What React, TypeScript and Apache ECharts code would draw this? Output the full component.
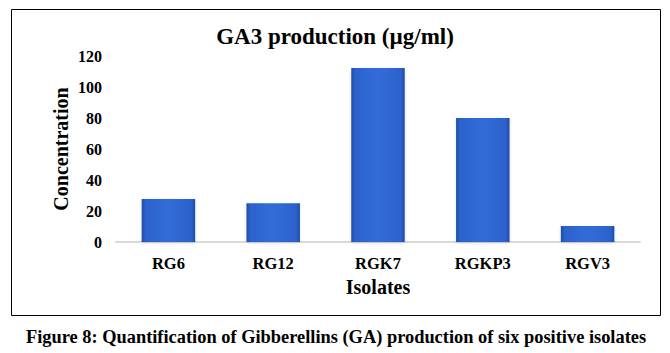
import React, { useEffect, useRef } from "react";
import * as echarts from "echarts";

const categories = ["RG6", "RG12", "RGK7", "RGKP3", "RGV3"];
const values = [27.7, 25, 112.3, 80, 10.3];
const titleText = "GA3 production (µg/ml)";
const captionText = "Figure 8: Quantification of Gibberellins (GA) production of six positive isolates";
const xName = "Isolates";
const yName = "Concentration";

const FONT = '"Liberation Serif", "Times New Roman", serif';

export default function App() {
  const ref = useRef<HTMLDivElement>(null);
  useEffect(() => {
    document.body.style.margin = "0";
    const chart = echarts.init(ref.current!, null, { renderer: "svg" });
    chart.setOption({
      animation: false,
      backgroundColor: "#ffffff",
      title: {
        text: titleText,
        left: "center",
        top: 20,
        textStyle: { fontFamily: FONT, fontWeight: "bold", fontSize: 23, color: "#000" },
      },
      grid: { left: 116, right: 30, top: 56, bottom: 111 },
      xAxis: {
        type: "category",
        data: categories,
        name: xName,
        nameLocation: "middle",
        nameGap: 35,
        nameTextStyle: { fontFamily: FONT, fontWeight: "bold", fontSize: 20, color: "#000" },
        axisLine: { lineStyle: { color: "#d9d9d9", width: 2 } },
        axisTick: { show: false },
        axisLabel: { fontFamily: FONT, fontWeight: "bold", fontSize: 16.5, color: "#000", margin: 13 },
      },
      yAxis: {
        type: "value",
        min: 0,
        max: 120,
        interval: 20,
        name: yName,
        nameLocation: "middle",
        nameGap: 45,
        nameMoveOverlap: false,
        nameTextStyle: { fontFamily: FONT, fontWeight: "bold", fontSize: 20, color: "#000" },
        axisLine: { show: false },
        axisTick: { show: false },
        splitLine: { show: false },
        axisLabel: { fontFamily: FONT, fontWeight: "bold", fontSize: 16, color: "#000", margin: 14 },
      },
      series: [
        {
          type: "bar",
          data: values,
          barWidth: "51%",
          itemStyle: {
            color: new echarts.graphic.LinearGradient(1, 0, 0, 0, [
              { offset: 0, color: "#1f4aa6" },
              { offset: 0.07, color: "#2c62cc" },
              { offset: 0.5, color: "#326cd8" },
              { offset: 0.93, color: "#2c62cc" },
              { offset: 1, color: "#1f4aa6" },
            ]),
            shadowColor: "rgba(0,0,0,0.15)",
            shadowBlur: 3,
            shadowOffsetY: 1,
          },
        },
      ],
      graphic: [
        {
          type: "rect",
          shape: { x: 11.5, y: 9.5, width: 649, height: 306 },
          style: { fill: "none", stroke: "#000", lineWidth: 1 },
          silent: true,
        },
        {
          type: "text",
          x: 336,
          y: 337,
          style: {
            text: captionText,
            fontFamily: FONT,
            fontWeight: "bold",
            fontSize: 18.4,
            fill: "#000",
            align: "center",
            verticalAlign: "middle",
          },
        },
      ],
    });
    return () => chart.dispose();
  }, []);
  return <div ref={ref} style={{ width: 670, height: 353 }} />;
}
